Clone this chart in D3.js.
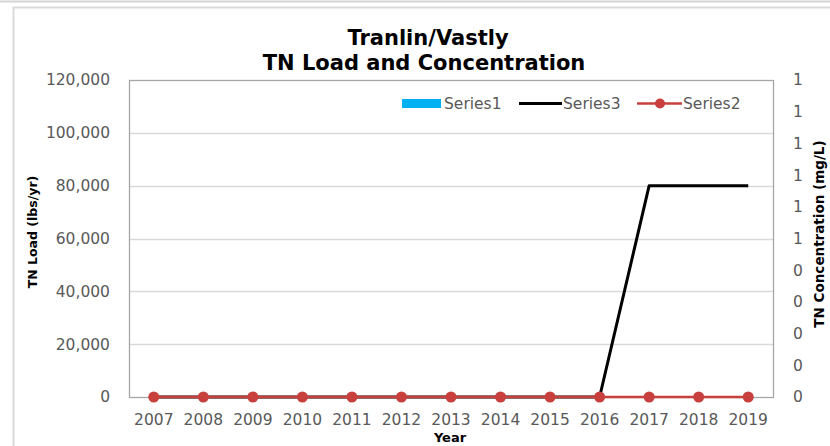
<!DOCTYPE html>
<html>
<head>
<meta charset="utf-8">
<script src="https://cdn.jsdelivr.net/npm/d3@7"></script>
<style>
  body { margin: 0; background: #fff; }
  text { font-family: "DejaVu Sans", sans-serif; }
</style>
</head>
<body>
<svg id="chart" width="830" height="446"></svg>
<script>
// chart data
const years = ["2007", "2008", "2009", "2010", "2011", "2012", "2013",
  "2014", "2015", "2016", "2017", "2018", "2019"];
const series1 = [0, 0, 0, 0, 0, 0, 0, 0, 0, 0, 0, 0, 0];               // load bars
const series3 = [0, 0, 0, 0, 0, 0, 0, 0, 0, 0, 80000, 80000, 80000];   // load line
const series2 = [0, 0, 0, 0, 0, 0, 0, 0, 0, 0, 0, 0, 0];               // concentration
const loadTicks = [0, 20000, 40000, 60000, 80000, 100000, 120000];
const concTicks = [0, 0.1, 0.2, 0.3, 0.4, 0.5, 0.6, 0.7, 0.8, 0.9, 1];

const svg = d3.select("#chart");
const plotLeft = 129, plotRight = 773, plotTop = 80, plotBottom = 397;

// outer frame
svg.append("line")
    .attr("x1", 0).attr("x2", 830).attr("y1", 1.5).attr("y2", 1.5)
    .attr("stroke", "#d4d4d4").attr("stroke-width", 2);
svg.append("rect")
    .attr("x", 13.5).attr("y", 7.5)
    .attr("width", 840).attr("height", 460)
    .attr("fill", "none").attr("stroke", "#d9d9d9").attr("stroke-width", 2);

const x = d3.scaleBand().domain(years).range([plotLeft, plotRight]);
const yLoad = d3.scaleLinear().domain([0, 120000]).range([plotBottom, plotTop]);
const yConc = d3.scaleLinear().domain([0, 1]).range([plotBottom, plotTop]);
const cx = d => x(d) + x.bandwidth() / 2;

// gridlines
svg.append("g")
  .selectAll("line")
  .data(loadTicks.slice(1, -1))
  .join("line")
    .attr("x1", plotLeft).attr("x2", plotRight)
    .attr("y1", d => Math.round(yLoad(d)) + 0.5)
    .attr("y2", d => Math.round(yLoad(d)) + 0.5)
    .attr("stroke", "#d9d9d9").attr("stroke-width", 1.3);

// plot border
svg.append("rect")
    .attr("x", plotLeft + 0.5).attr("y", plotTop + 0.5)
    .attr("width", plotRight - plotLeft).attr("height", plotBottom - plotTop)
    .attr("fill", "none").attr("stroke", "#a6a6a6").attr("stroke-width", 1.3);

// axes
const leftAxis = svg.append("g")
    .attr("transform", `translate(${plotLeft},0)`)
    .call(d3.axisLeft(yLoad).tickValues(loadTicks)
      .tickFormat(d3.format(",")).tickSize(0).tickPadding(19));
const rightAxis = svg.append("g")
    .attr("transform", `translate(${plotRight},0)`)
    .call(d3.axisRight(yConc).tickValues(concTicks)
      .tickFormat(d => Math.round(d)).tickSize(0).tickPadding(20));
const bottomAxis = svg.append("g")
    .attr("transform", `translate(0,${plotBottom})`)
    .call(d3.axisBottom(x).tickSize(0).tickPadding(17));

[leftAxis, rightAxis, bottomAxis].forEach(g => {
  g.select(".domain").remove();
  g.selectAll("text")
      .attr("fill", "#595959")
      .style("font-size", "15.5px");
});

// series1 bars (all zero)
svg.append("g")
  .selectAll("rect")
  .data(years)
  .join("rect")
    .attr("x", d => x(d) + x.bandwidth() * 0.2)
    .attr("width", x.bandwidth() * 0.6)
    .attr("y", (d, i) => yLoad(series1[i]))
    .attr("height", (d, i) => plotBottom - yLoad(series1[i]))
    .attr("fill", "#00b0f0");

// series3 black line
svg.append("path")
    .datum(series3)
    .attr("fill", "none")
    .attr("stroke", "#000")
    .attr("stroke-width", 3)
    .attr("stroke-linejoin", "round")
    .attr("d", d3.line().x((d, i) => cx(years[i])).y(d => yLoad(d)));

// series2 red line with markers
svg.append("path")
    .datum(series2)
    .attr("fill", "none")
    .attr("stroke", "#c8403d")
    .attr("stroke-width", 2.5)
    .attr("d", d3.line().x((d, i) => cx(years[i])).y(d => yConc(d)));
svg.append("g")
  .selectAll("circle")
  .data(series2)
  .join("circle")
    .attr("cx", (d, i) => cx(years[i]))
    .attr("cy", d => yConc(d))
    .attr("r", 5.5)
    .attr("fill", "#c8403d");

// titles
svg.append("text")
    .attr("x", 428).attr("y", 45)
    .attr("text-anchor", "middle")
    .style("font-size", "21px").style("font-weight", "bold")
    .attr("fill", "#000")
    .text("Tranlin/Vastly");
svg.append("text")
    .attr("x", 424).attr("y", 70)
    .attr("text-anchor", "middle")
    .style("font-size", "21px").style("font-weight", "bold")
    .attr("fill", "#000")
    .text("TN Load and Concentration");

svg.append("text")
    .attr("transform", "translate(37,232) rotate(-90)")
    .attr("text-anchor", "middle")
    .style("font-size", "12.5px").style("font-weight", "bold")
    .text("TN Load (lbs/yr)");
svg.append("text")
    .attr("transform", "translate(824,234) rotate(-90)")
    .attr("text-anchor", "middle")
    .style("font-size", "13.5px").style("font-weight", "bold")
    .text("TN Concentration (mg/L)");
svg.append("text")
    .attr("x", 450).attr("y", 442)
    .attr("text-anchor", "middle")
    .style("font-size", "13px").style("font-weight", "bold")
    .text("Year");

// legend
const legend = svg.append("g").style("font-size", "15.5px");
legend.append("rect")
    .attr("x", 402).attr("y", 99).attr("width", 39).attr("height", 9)
    .attr("fill", "#00b0f0");
legend.append("text").attr("x", 444).attr("y", 109).attr("fill", "#595959").text("Series1");
legend.append("line")
    .attr("x1", 519).attr("x2", 562).attr("y1", 103.5).attr("y2", 103.5)
    .attr("stroke", "#000").attr("stroke-width", 3);
legend.append("text").attr("x", 563).attr("y", 109).attr("fill", "#595959").text("Series3");
legend.append("line")
    .attr("x1", 637).attr("x2", 682).attr("y1", 103.5).attr("y2", 103.5)
    .attr("stroke", "#c8403d").attr("stroke-width", 2.5);
legend.append("circle")
    .attr("cx", 660).attr("cy", 103.5).attr("r", 5)
    .attr("fill", "#c8403d");
legend.append("text").attr("x", 683).attr("y", 109).attr("fill", "#595959").text("Series2");
</script>
</body>
</html>
